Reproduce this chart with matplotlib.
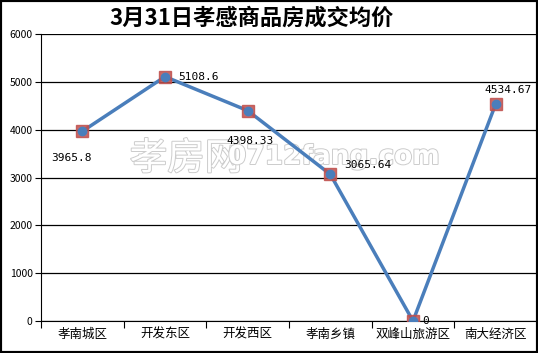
import matplotlib.pyplot as plt
import matplotlib.patheffects as pe
from matplotlib.patches import Rectangle

plt.rcParams['font.family'] = ['Noto Sans CJK SC', 'DejaVu Sans']

# 数据
districts = ["孝南城区", "开发东区", "开发西区", "孝南乡镇", "双峰山旅游区", "南大经济区"]
prices = [3965.8, 5108.6, 4398.33, 3065.64, 0, 4534.67]
price_labels = ["3965.8", "5108.6", "4398.33", "3065.64", "0", "4534.67"]
yticks = [0, 1000, 2000, 3000, 4000, 5000, 6000]

fig = plt.figure(figsize=(5.38, 3.53), dpi=100)
ax = fig.add_axes([41 / 538, 32 / 353, 496 / 538, 287 / 353])
ax.patch.set_alpha(0)

# 水印 (画在坐标轴下面)
outline = [pe.withStroke(linewidth=1.4, foreground="#cccccc")]
fig.text(186 / 538, 1 - 159 / 353, "孝房网", fontsize=27, color="white", ha="center",
         va="center", path_effects=outline, zorder=-1)
fig.text(334 / 538, 1 - 157 / 353, "0712fang.com", fontsize=19, color="white", ha="center",
         va="center", fontweight="bold", family=["Liberation Sans Narrow", "DejaVu Sans"],
         path_effects=outline, zorder=-1)

x = list(range(len(districts)))
ax.plot(x, prices, color="#4A7EBB", linewidth=2.5, zorder=3)
ax.plot(x, prices, linestyle="none", marker="s", markersize=8,
        markerfacecolor="#C0504D", markeredgecolor="#C0504D", alpha=0.85, zorder=4)
ax.plot(x, prices, linestyle="none", marker="o", markersize=6,
        markerfacecolor="#4A7EBB", markeredgecolor="#4A7EBB", zorder=5)

# 数据标签位置 (偏移, 单位 points)
offsets = [(-8, -19.5), (24, 0), (1.5, -22), (27, 7), (9, 0), (9, 10)]
for xi, yi, lab, off in zip(x, prices, price_labels, offsets):
    ax.annotate(lab, (xi, yi), xytext=off, textcoords="offset points",
                ha="center", va="center", fontsize=8, family="DejaVu Sans Mono", zorder=6)

ax.set_xlim(-0.5, len(districts) - 0.5)
ax.set_ylim(0, 6000)
ax.set_yticks(yticks)
ax.set_yticklabels([str(v) for v in yticks], fontsize=7.5)
ax.yaxis.grid(True, color="black", linewidth=0.9)
ax.set_axisbelow(True)

ax.set_xticks([i - 0.5 for i in range(len(districts) + 1)])
ax.set_xticklabels([])
ax.set_xticks(x, minor=True)
ax.set_xticklabels(districts, minor=True, fontsize=9)
ax.tick_params(axis="x", which="major", length=5, direction="out", color="black")
ax.tick_params(axis="x", which="minor", length=0, pad=5)
ax.tick_params(axis="y", length=4, direction="out", pad=2)

for s in ["top", "right"]:
    ax.spines[s].set_visible(False)
ax.spines["left"].set_color("black")
ax.spines["bottom"].set_color("black")

fig.text(252 / 538, 1 - 18 / 353, "3月31日孝感商品房成交均价", fontsize=16, fontweight="bold",
         ha="center", va="center")

fig.patches.append(Rectangle((0, 0), 1, 1, transform=fig.transFigure, fill=False,
                             edgecolor="black", linewidth=3))

fig.savefig("out.png", dpi=100)
